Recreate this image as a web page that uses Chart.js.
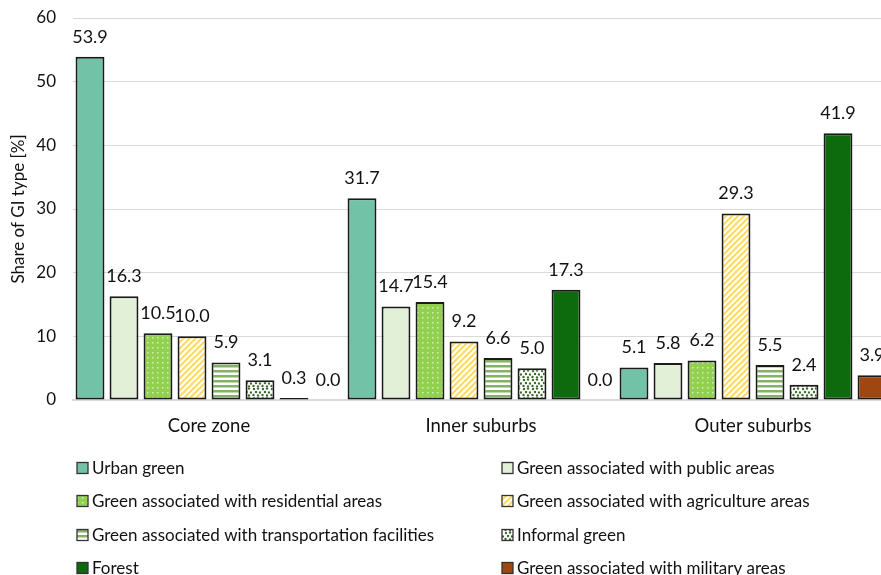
<!DOCTYPE html>
<html>
<head>
<meta charset="utf-8">
<script src="https://cdn.jsdelivr.net/npm/chart.js@4.4.1/dist/chart.umd.min.js"></script>
<style>
html,body{margin:0;padding:0;background:#fff;overflow:hidden;width:881px;height:575px;}
#wrap{position:absolute;left:0;top:0;width:889px;height:575px;}
</style>
</head>
<body>
<div id="wrap"><canvas id="c"></canvas></div>
<script>
const categories = ["Core zone", "Inner suburbs", "Outer suburbs"];
const seriesNames = [
  "Urban green",
  "Green associated with public areas",
  "Green associated with residential areas",
  "Green associated with agriculture areas",
  "Green associated with transportation facilities",
  "Informal green",
  "Forest",
  "Green associated with military areas"
];
const urbanGreen      = [53.9, 31.7, 5.1];
const publicAreas     = [16.3, 14.7, 5.8];
const residential     = [10.5, 15.4, 6.2];
const agriculture     = [10.0, 9.2, 29.3];
const transportation  = [5.9, 6.6, 5.5];
const informal        = [3.1, 5.0, 2.4];
const forest          = [0.3, 17.3, 41.9];
const military        = [0.0, 0.0, 3.9];
const yTicks = [0, 10, 20, 30, 40, 50, 60];

const FONT = "Lato, 'Open Sans', sans-serif";
const TXT = '#111111';

function makePattern(w, h, draw) {
  const c = document.createElement('canvas');
  c.width = w; c.height = h;
  const g = c.getContext('2d');
  draw(g, w, h);
  return document.getElementById('c').getContext('2d').createPattern(c, 'repeat');
}
const pResidential = makePattern(5, 5, (g) => {
  g.fillStyle = '#92D050'; g.fillRect(0,0,5,5);
  g.fillStyle = '#D4EFB6'; g.fillRect(2,2,1.5,1.5);
});
const pAgri = makePattern(6, 6, (g) => {
  g.fillStyle = '#FFFFFF'; g.fillRect(0,0,6,6);
  g.strokeStyle = '#FFD966'; g.lineWidth = 2;
  g.beginPath();
  g.moveTo(-1,7); g.lineTo(7,-1);
  g.moveTo(-1,1); g.lineTo(1,-1);
  g.moveTo(5,7); g.lineTo(7,5);
  g.stroke();
});
const pTrans = makePattern(4, 5, (g) => {
  g.fillStyle = '#FFFFFF'; g.fillRect(0,0,4,5);
  g.fillStyle = '#84B264'; g.fillRect(0,0,4,2.5);
});
const pInformal = makePattern(9, 9, (g) => {
  g.fillStyle = '#FFFFFF'; g.fillRect(0,0,9,9);
  g.fillStyle = '#3A6B2A';
  [[1,1],[5,0.5],[3,4],[7,4.5],[0.5,7],[5,7.5]].forEach(([x,y]) => {
    g.beginPath(); g.arc(x+1, y+1, 1.2, 0, Math.PI*2); g.fill();
  });
});

const fills = ['#72C2A8', '#E3F0D8', pResidential, pAgri, pTrans, pInformal, '#0D6A0D', '#9E4710'];
const values = [urbanGreen, publicAreas, residential, agriculture, transportation, informal, forest, military];

const datasets = seriesNames.map((name, i) => ({
  label: name,
  data: values[i],
  backgroundColor: fills[i],
  borderColor: '#1A1A1A',
  borderWidth: 2,
  borderSkipped: false,
  categoryPercentage: 1.0,
  barPercentage: 0.85
}));

const dataLabels = {
  id: 'dataLabels',
  afterDatasetsDraw(chart) {
    const ctx = chart.ctx;
    ctx.save();
    ctx.font = "18px " + FONT;
    ctx.fillStyle = TXT;
    ctx.textAlign = 'center';
    ctx.textBaseline = 'middle';
    chart.data.datasets.forEach((ds, di) => {
      const meta = chart.getDatasetMeta(di);
      meta.data.forEach((bar, j) => {
        ctx.fillText(ds.data[j].toFixed(1), bar.x, bar.y - 20);
      });
    });
    ctx.restore();
  }
};

const gridLegend = {
  id: 'gridLegend',
  afterDraw(chart) {
    const ctx = chart.ctx;
    ctx.save();
    ctx.font = "17px " + FONT;
    ctx.textBaseline = 'middle';
    ctx.textAlign = 'left';
    const colX = [77, 502];
    const rowY = [468, 501, 535, 568];
    chart.data.datasets.forEach((ds, i) => {
      const x = colX[i % 2];
      const y = rowY[Math.floor(i / 2)];
      ctx.fillStyle = ds.backgroundColor;
      ctx.fillRect(x, y - 5.5, 11, 11);
      ctx.strokeStyle = '#333';
      ctx.lineWidth = 1.3;
      ctx.strokeRect(x, y - 5.5, 11, 11);
      ctx.fillStyle = TXT;
      ctx.fillText(ds.label, x + 15, y + 1);
    });
    ctx.restore();
  }
};

new Chart(document.getElementById('c'), {
  type: 'bar',
  data: { labels: categories, datasets },
  options: {
    responsive: true,
    maintainAspectRatio: false,
    animation: false,
    layout: { padding: { top: 18, left: 0, right: 0, bottom: 135 } },
    plugins: { legend: { display: false }, tooltip: { enabled: false } },
    scales: {
      x: {
        grid: { display: false, drawTicks: false },
        border: { display: true, color: '#D9D9D9', width: 2 },
        ticks: { font: { family: FONT, size: 18.5 }, color: TXT, padding: 15 },
        afterFit(s) { s.height = 40; }
      },
      y: {
        min: 0, max: 60,
        afterBuildTicks(s) { s.ticks = yTicks.map(v => ({ value: v })); },
        grid: { color: '#D9D9D9', lineWidth: 1, drawTicks: false },
        border: { display: false },
        ticks: { font: { family: FONT, size: 17 }, color: TXT, padding: 17 },
        title: { display: true, text: 'Share of GI type [%]', font: { family: FONT, size: 17 }, color: TXT, padding: { top: 8, bottom: 0 } },
        afterFit(s) { s.width = 73; s.paddingTop = 0; s.paddingBottom = 0; }
      }
    }
  },
  plugins: [dataLabels, gridLegend]
});
</script>
</body>
</html>
